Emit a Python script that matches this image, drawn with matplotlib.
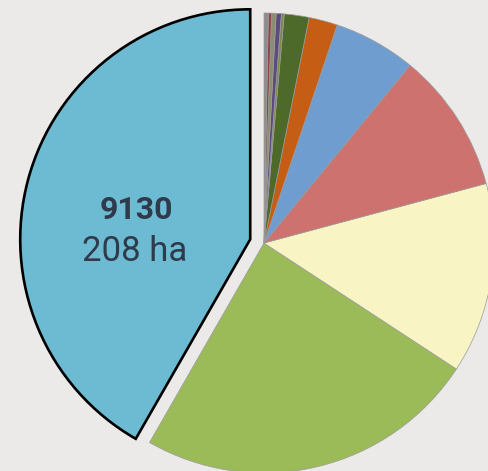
import numpy as np
import matplotlib.pyplot as plt
from matplotlib.patches import Shadow

# --- data (ha), counter-clockwise from 12 o'clock --- #
habitats = ["9130", "h2", "h3", "h4", "h5", "h6", "h7", "h8", "h9", "h10", "h11", "h12"]
areas = [208, 120, 66.8, 49.3, 28.9, 10.0, 8.7, 1.0, 1.8, 1.6, 1.1, 1.5]
colors = ["#6dbbd2", "#9bbb59", "#f8f4c3", "#cd726f", "#709dd0", "#c55d14",
          "#4e6a2a", "#7f8a4a", "#5d4a80", "#8c8c6e", "#8e4646", "#8d8d8d"]
explode = [0.062] + [0] * (len(areas) - 1)
main_label = "9130"
main_area = "208 ha"

fig = plt.figure(figsize=(4.89, 4.71), dpi=100, facecolor="#ebeae8")
ax = fig.add_axes([0, 0, 1, 1])
ax.set_facecolor("#ebeae8")

wedges, _ = ax.pie(areas, colors=colors, explode=explode, startangle=90,
                   counterclock=True, radius=1,
                   wedgeprops=dict(edgecolor="#9a9a9a", linewidth=0.5))

# main habitat highlighted with a black outline
wedges[0].set_edgecolor("black")
wedges[0].set_linewidth(1.9)
wedges[0].set_zorder(3)

# soft grey drop shadow
for w in wedges:
    for k in range(1, 6):
        s = Shadow(w, 1.0 + 0.4 * k, -1.5 - 0.6 * k, facecolor="#6a6a6a",
                   edgecolor="none", alpha=0.06)
        s.set_zorder(0)
        ax.add_patch(s)

ax.text(-0.557, 0.145, main_label, ha="center", va="center", fontsize=23,
        fontweight="bold", color="#2f3b4a", family="Roboto")
ax.text(-0.561, -0.035, main_area, ha="center", va="center", fontsize=25,
        color="#2f3b4a", family="Roboto")

ax.set_xlim(-264 / 230, (489 - 264) / 230)
ax.set_ylim((243 - 471) / 230, 243 / 230)
ax.set_aspect("auto")
ax.axis("off")

fig.savefig("out.png", dpi=100, facecolor=fig.get_facecolor())
